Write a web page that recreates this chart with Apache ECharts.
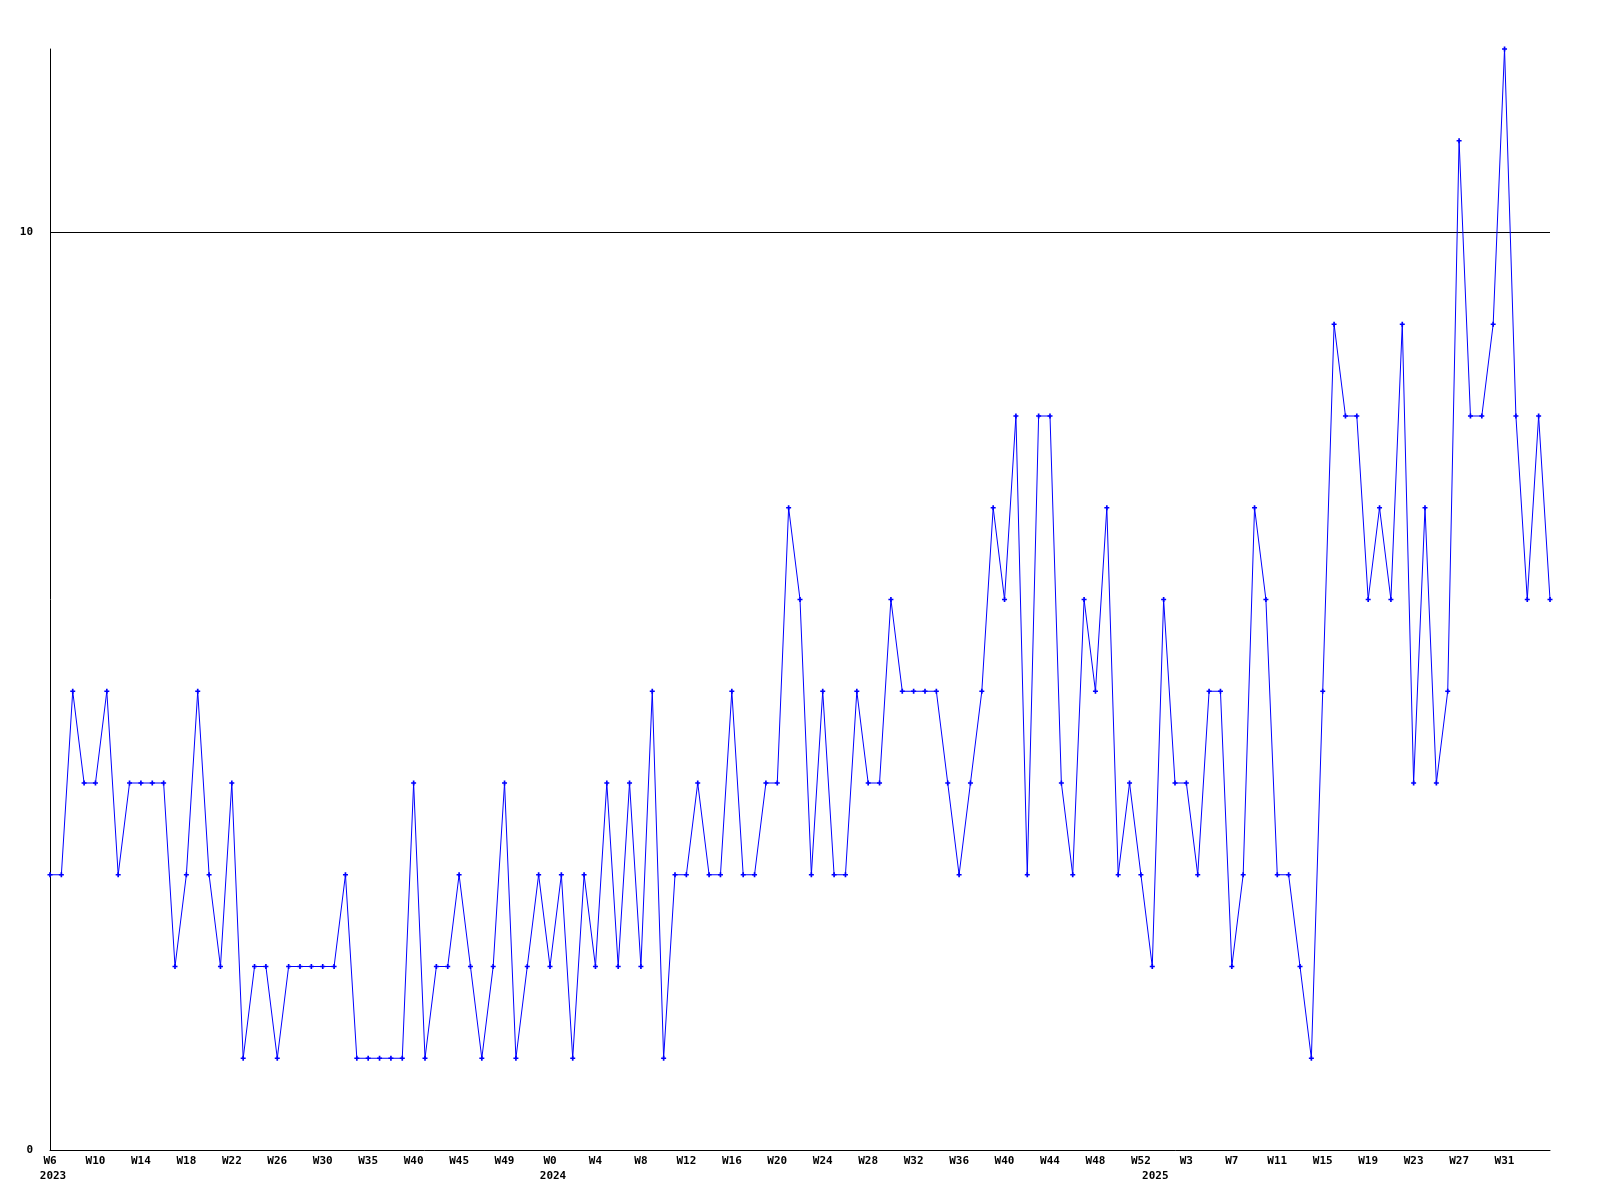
<!DOCTYPE html>
<html>
<head>
<meta charset="utf-8">
<script src="https://cdn.jsdelivr.net/npm/echarts@6/dist/echarts.min.js"></script>
<style>html,body{margin:0;padding:0;background:#fff;}#c{width:1600px;height:1200px;}</style>
</head>
<body>
<div id="c"></div>
<script>
const weeks = [
  'W6','W7','W8','W9','W10','W11','W12','W13','W14','W15','W16','W17','W18','W19','W20','W21','W22','W23','W24','W25','W26','W27','W28','W29','W30',
  'W31','W32','W33','W35','W36','W37','W38','W40','W41','W42','W43','W45','W46','W47','W48','W49','W50','W51','W52',
  'W0','W1','W2','W3','W4','W5','W6','W7','W8','W9','W10','W11','W12','W13','W14','W15','W16','W17','W18','W19','W20','W21','W22','W23','W24','W25','W26',
  'W27','W28','W29','W30','W31','W32','W33','W34','W35','W36','W37','W38','W39','W40','W41','W42','W43','W44','W45','W46','W47','W48','W49','W50','W51','W52',
  'W0','W1','W2','W3','W4','W5','W6','W7','W8','W9','W10','W11','W12','W13','W14','W15','W16','W17','W18','W19','W20','W21','W22','W23','W24','W25','W26',
  'W27','W28','W29','W30','W31','W32','W33','W34','W35'
];
const values = [
  3,3,5,4,4,5,3,4,4,4,
  4,2,3,5,3,2,4,1,2,2,
  1,2,2,2,2,2,3,1,1,1,
  1,1,4,1,2,2,3,2,1,2,
  4,1,2,3,2,3,1,3,2,4,
  2,4,2,5,1,3,3,4,3,3,
  5,3,3,4,4,7,6,3,5,3,
  3,5,4,4,6,5,5,5,5,4,
  3,4,5,7,6,8,3,8,8,4,
  3,6,5,7,3,4,3,2,6,4,
  4,3,5,5,2,3,7,6,3,3,
  2,1,5,9,8,8,6,7,6,9,
  4,7,4,5,11,8,8,9,12,8,
  6,8,6
];
const yearStarts = [0, 44, 97];
const yearNames = ['2023', '2024', '2025'];
const refLine = 10;

const font = 'DejaVu Sans Mono';
const chart = echarts.init(document.getElementById('c'), null, {renderer: 'canvas'});
chart.setOption({
  animation: false,
  backgroundColor: '#ffffff',
  grid: {left: 50, right: 50, top: 49, bottom: 50, containLabel: false},
  xAxis: [{
    type: 'category',
    data: weeks,
    boundaryGap: false,
    axisLine: {show: true, lineStyle: {color: '#000', width: 1}},
    axisTick: {show: false},
    splitLine: {show: false},
    axisLabel: {
      interval: function (idx) { return idx % 4 === 0 && idx < weeks.length - 1; },
      color: '#000', fontFamily: font, fontWeight: 'bold', fontSize: 11, margin: 6
    }
  }, {
    type: 'category',
    data: weeks,
    position: 'bottom',
    boundaryGap: false,
    axisLine: {show: false},
    axisTick: {show: false},
    splitLine: {show: false},
    axisLabel: {
      interval: function (idx) { return yearStarts.indexOf(idx) >= 0; },
      formatter: function (v, idx) { const k = yearStarts.indexOf(idx); return k >= 0 ? yearNames[k] : ''; },
      color: '#000', fontFamily: font, fontWeight: 'bold', fontSize: 11, margin: 21,
      padding: [0, 0, 0, 6]
    }
  }],
  yAxis: {
    type: 'value',
    min: 0,
    max: 12,
    interval: 10,
    axisLine: {show: true, lineStyle: {color: '#000', width: 1}},
    axisTick: {show: false},
    splitLine: {show: false},
    axisLabel: {showMaxLabel: false, color: '#000', fontFamily: font, fontWeight: 'bold', fontSize: 11, margin: 17}
  },
  series: [{
    type: 'line',
    data: values,
    xAxisIndex: 0,
    color: '#0000ff',
    lineStyle: {color: '#0000ff', width: 1},
    itemStyle: {color: '#0000ff'},
    symbol: 'path://M1,0H2V1H3V2H2V3H1V2H0V1H1Z',
    symbolSize: 5,
    showSymbol: true,
    showAllSymbol: true,
    markLine: {
      silent: true,
      symbol: 'none',
      label: {show: false},
      lineStyle: {color: '#000', width: 1, type: 'solid'},
      data: [{yAxis: refLine}],
      z: 1
    }
  }]
});
</script>
</body>
</html>
